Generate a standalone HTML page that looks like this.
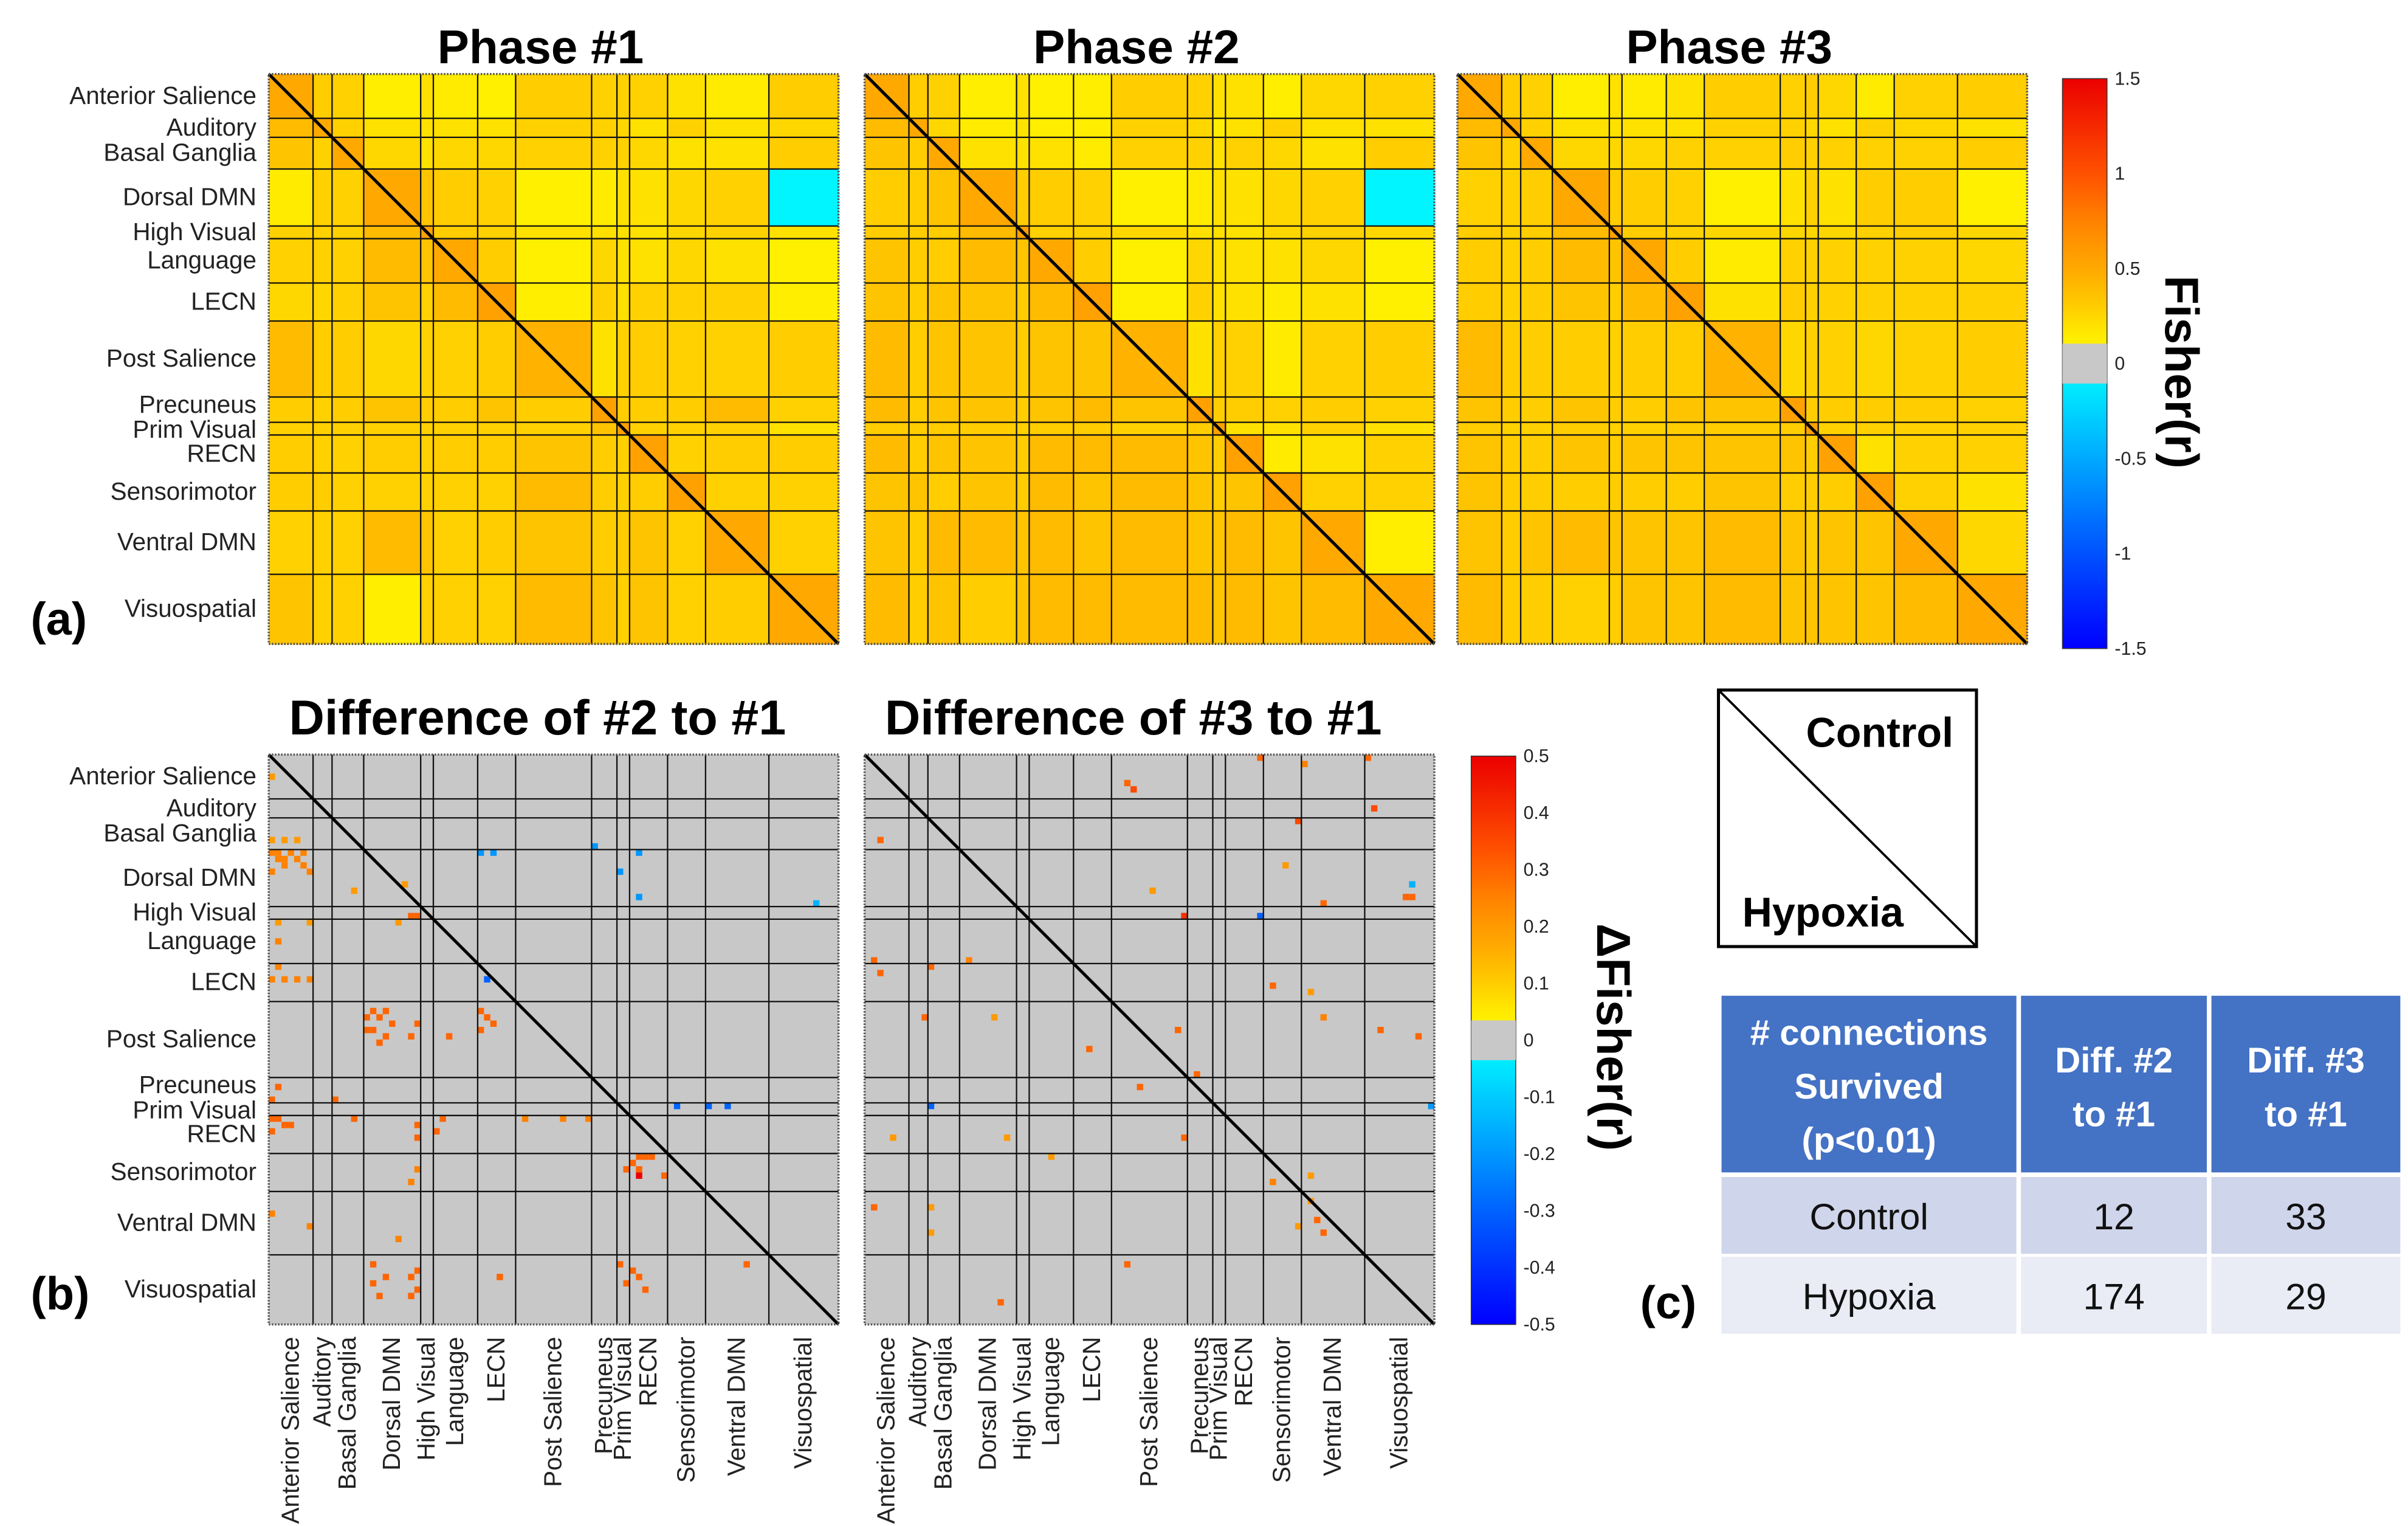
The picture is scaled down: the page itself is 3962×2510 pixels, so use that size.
<!DOCTYPE html>
<html><head><meta charset="utf-8">
<style>
html,body{margin:0;padding:0;background:#fff;}
svg{display:block;font-family:"Liberation Sans",Arial,sans-serif;}
</style></head>
<body>
<svg id="fig" width="3962" height="2510" viewBox="0 0 1568 993" xmlns="http://www.w3.org/2000/svg">
<rect x="0" y="0" width="1568" height="993" fill="#fff"/>
<g id="root"></g>
</svg>
<script>
// ---------- DATA ----------
const networks = ["Anterior Salience","Auditory","Basal Ganglia","Dorsal DMN","High Visual","Language","LECN","Post Salience","Precuneus","Prim Visual","RECN","Sensorimotor","Ventral DMN","Visuospatial"];
const networkSizes = [7,3,5,9,2,7,6,12,4,2,6,6,10,11];
const phaseTitles = ["Phase #1","Phase #2","Phase #3"];
const phase1 = [
[.5,.3,.28,.12,.2,.15,.1,.3,.28,.28,.28,.2,.15,.3],
[.4,.5,.28,.2,.2,.2,.2,.28,.28,.25,.2,.28,.2,.25],
[.35,.28,.5,.25,.2,.25,.25,.28,.28,.28,.25,.2,.2,.3],
[.15,.28,.28,.5,.35,.3,.28,.1,.15,.2,.2,.25,.28,-.06],
[.28,.28,.28,.4,.55,.3,.28,.2,.2,.2,.2,.25,.28,.2],
[.28,.28,.28,.4,.35,.5,.3,.1,.25,.2,.2,.25,.2,.1],
[.25,.25,.28,.35,.28,.4,.55,.12,.28,.2,.28,.28,.28,.12],
[.4,.3,.3,.25,.28,.28,.3,.45,.2,.28,.3,.28,.28,.3],
[.3,.28,.3,.35,.3,.3,.35,.3,.55,.3,.3,.3,.4,.28],
[.28,.28,.28,.28,.28,.28,.28,.28,.35,.55,.28,.28,.28,.2],
[.3,.28,.28,.3,.28,.3,.3,.35,.3,.28,.55,.28,.3,.3],
[.3,.3,.28,.28,.28,.28,.28,.4,.3,.28,.3,.55,.28,.28],
[.28,.28,.28,.4,.35,.28,.3,.35,.3,.3,.35,.28,.5,.28],
[.35,.28,.28,.12,.28,.28,.28,.4,.35,.28,.35,.28,.3,.5]];
const phase2 = [
[.5,.3,.28,.12,.2,.1,.12,.3,.28,.2,.2,.12,.25,.28],
[.4,.5,.25,.15,.2,.12,.12,.28,.25,.12,.2,.28,.2,.2],
[.35,.3,.5,.2,.2,.2,.15,.28,.28,.2,.28,.25,.2,.3],
[.3,.3,.35,.5,.3,.3,.28,.1,.15,.2,.2,.25,.28,-.06],
[.3,.3,.3,.4,.55,.28,.28,.25,.2,.2,.2,.25,.28,.25],
[.35,.3,.3,.4,.35,.5,.3,.1,.25,.2,.2,.2,.25,.1],
[.35,.3,.35,.35,.3,.4,.55,.1,.28,.2,.2,.15,.2,.1],
[.4,.3,.35,.35,.3,.35,.35,.45,.2,.28,.28,.15,.28,.3],
[.4,.3,.35,.35,.3,.35,.4,.35,.55,.3,.3,.28,.3,.28],
[.3,.3,.3,.3,.28,.3,.3,.28,.3,.55,.2,.2,.28,.2],
[.4,.3,.35,.35,.3,.4,.4,.4,.35,.3,.55,.15,.2,.28],
[.35,.35,.3,.35,.3,.4,.35,.4,.35,.3,.35,.55,.28,.28],
[.35,.3,.4,.4,.35,.4,.35,.4,.35,.35,.4,.35,.5,.12],
[.4,.3,.35,.3,.35,.4,.4,.4,.4,.35,.4,.35,.4,.5]];
const phase3 = [
[.5,.3,.28,.12,.2,.15,.2,.3,.28,.3,.25,.15,.28,.3],
[.4,.5,.28,.2,.2,.2,.2,.28,.28,.25,.2,.28,.25,.2],
[.35,.28,.5,.25,.25,.25,.28,.28,.3,.28,.28,.28,.28,.3],
[.28,.28,.3,.5,.3,.3,.28,.1,.2,.28,.2,.3,.3,.1],
[.3,.28,.3,.4,.55,.3,.28,.25,.25,.25,.25,.28,.3,.25],
[.3,.28,.3,.4,.35,.5,.3,.15,.28,.28,.28,.28,.28,.25],
[.3,.28,.3,.35,.3,.4,.55,.2,.3,.28,.28,.28,.28,.28],
[.4,.3,.3,.3,.28,.3,.3,.45,.25,.28,.28,.25,.28,.3],
[.35,.3,.3,.35,.3,.3,.35,.35,.55,.3,.3,.3,.3,.28],
[.3,.28,.28,.3,.28,.28,.3,.3,.3,.55,.28,.28,.28,.28],
[.35,.3,.3,.35,.3,.35,.35,.35,.35,.3,.55,.2,.28,.28],
[.35,.3,.3,.3,.3,.3,.3,.35,.3,.3,.3,.55,.28,.2],
[.35,.3,.35,.4,.35,.35,.35,.4,.35,.3,.35,.35,.5,.25],
[.4,.3,.3,.28,.3,.35,.35,.4,.35,.35,.35,.35,.4,.5]];
const diffTitles = ["Difference of #2 to #1","Difference of #3 to #1"];
const diff1Rows = [3,13,13,13,15,15,15,15,16,16,16,17,17,18,18,15,15,14,15,18,22,23,21,20,25,25,26,26,26,33,35,35,35,35,29,35,40,40,41,41,42,43,43,44,44,45,42,40,41,42,43,44,52,54,54,55,55,55,57,57,58,58,59,57,58,57,59,60,57,57,57,63,63,63,64,65,65,66,66,65,67,72,74,76,80,81,82,82,83,84,85,85,82,80,81,82,83,84,80];
const diff1Cols = [0,0,2,4,0,1,3,5,1,2,4,2,5,0,6,33,35,51,58,55,58,86,13,21,22,23,20,1,6,1,0,2,4,6,1,34,16,18,15,17,19,15,16,18,22,17,23,33,34,35,33,28,1,0,10,64,69,72,0,1,2,3,0,13,23,27,26,23,40,46,50,58,59,60,57,56,58,58,62,23,22,0,6,20,16,23,18,22,16,23,17,22,36,55,57,58,56,59,75];
const diff1Vals = [.2,.2,.2,.2,.25,.25,.25,.25,.25,.25,.25,.25,.25,.25,.25,-.2,-.2,-.2,-.2,-.2,-.2,-.15,.2,.2,.3,.3,.2,.2,.2,.25,.25,.25,.25,.25,.25,-.3,.3,.3,.3,.3,.3,.3,.3,.3,.3,.3,.3,.3,.3,.3,.3,.3,.3,.3,.3,-.3,-.3,-.3,.3,.3,.3,.3,.3,.3,.3,.3,.3,.3,.25,.25,.25,.3,.3,.3,.3,.3,.3,.5,.3,.25,.25,.25,.25,.25,.3,.3,.3,.3,.3,.3,.3,.3,.3,.3,.3,.3,.3,.3,.3];
const diff2Rows = [0,4,5,1,0,8,10,13,17,20,22,22,21,25,25,23,32,33,34,32,36,37,41,41,46,43,44,43,41,50,52,55,55,60,60,60,63,66,67,70,73,74,75,71,71,75,80,86];
const diff2Cols = [79,41,42,69,62,80,68,2,66,86,86,85,45,50,62,72,1,10,2,16,64,70,9,20,35,81,87,49,72,52,43,10,89,4,22,50,29,70,64,70,71,68,72,1,10,10,41,21];
const diff2Vals = [.3,.3,.35,.25,.3,.35,.35,.3,.2,-.15,.3,.3,.2,.4,-.3,.3,.3,.3,.3,.25,.3,.2,.3,.2,.3,.3,.3,.3,.25,.3,.3,-.3,-.2,.2,.2,.3,.2,.2,.25,.2,.3,.2,.3,.3,.2,.2,.3,.3];
const cbTicks1 = [1.5,1,0.5,0,-0.5,-1,-1.5];
const cbTicks2 = [0.5,0.4,0.3,0.2,0.1,0,-0.1,-0.2,-0.3,-0.4,-0.5];
const tableHeader = ["# connections|Survived|(p<0.01)","Diff. #2|to #1","Diff. #3|to #1"];
const tableRowLabels = ["Control","Hypoxia"];
const tableDiff2 = [12,174];
const tableDiff3 = [33,29];

// ---------- HELPERS ----------
const NS="http://www.w3.org/2000/svg";
const root=document.getElementById('root');
function mk(tag,attrs,parent){const e=document.createElementNS(NS,tag);for(const k in attrs)e.setAttribute(k,attrs[k]);(parent||root).appendChild(e);return e;}
const N = networkSizes.reduce((a,b)=>a+b,0);
const starts=[];{let s=0;for(const n of networkSizes){starts.push(s);s+=n;}}
function lerp(a,b,t){return a+(b-a)*t;}
function mixc(stops,v){
  if(v<=stops[0][0])return stops[0][1];
  for(let i=1;i<stops.length;i++){if(v<=stops[i][0]){const t=(v-stops[i-1][0])/(stops[i][0]-stops[i-1][0]);const a=stops[i-1][1],b=stops[i][1];return [0,1,2].map(k=>Math.round(lerp(a[k],b[k],t)));}}
  return stops[stops.length-1][1];
}
function rgb(c){return `rgb(${c[0]},${c[1]},${c[2]})`;}
function cmap(v,scale){
  const g=0.035*scale;
  if(Math.abs(v)<g) return "rgb(200,200,200)";
  const t=v/scale;
  if(t>0) return rgb(mixc([[0,[255,250,0]],[0.1,[255,235,0]],[0.2,[255,205,0]],[0.33,[255,170,0]],[0.5,[255,130,0]],[0.67,[255,80,0]],[1,[235,0,0]]],t));
  return rgb(mixc([[-1,[0,0,255]],[-0.67,[0,80,255]],[-0.33,[0,170,255]],[0,[0,255,255]]],t));
}

// ---------- MATRICES ----------
function matrix(x0,y0,size,name,fillFn){
  const g=mk('g',{});
  
  
  const c=size/N;
  fillFn(g,c);
  for(let i=1;i<networkSizes.length;i++){
    const p=starts[i]*c;
    const l1=mk('line',{x1:x0,x2:x0+size,y1:y0+p,y2:y0+p,stroke:'#111','stroke-width':0.9},g);
    
    
    const l2=mk('line',{x1:x0+p,x2:x0+p,y1:y0,y2:y0+size,stroke:'#111','stroke-width':0.9},g);
    
    
  }
  const d=mk('line',{x1:x0,y1:y0,x2:x0+size,y2:y0+size,stroke:'#000','stroke-width':2},g);
  
  
  const b=mk('rect',{x:x0,y:y0,width:size,height:size,fill:'none',stroke:'#555','stroke-width':1.4,'stroke-dasharray':'1 1'},g);
  
  
  return g;
}
function blockFill(x0,y0,data){
  return function(g,c){
    for(let i=0;i<networkSizes.length;i++)for(let j=0;j<networkSizes.length;j++){
      const r=mk('rect',{x:x0+starts[j]*c,y:y0+starts[i]*c,width:networkSizes[j]*c+0.3,height:networkSizes[i]*c+0.3,fill:cmap(data[i][j],1.5)},g);
      
      
    }
  };
}
function sparseFill(x0,y0,rows,cols,vals){
  return function(g,c){
    const bg=mk('rect',{x:x0,y:y0,width:N*c,height:N*c,fill:'rgb(200,200,200)'},g);
    
    
    for(let k=0;k<rows.length;k++){
      const r=mk('rect',{x:x0+cols[k]*c,y:y0+rows[k]*c,width:c,height:c,fill:cmap(vals[k],0.5)},g);
      
      
    }
  };
}
const phaseX=[175,563,949], phaseData=[phase1,phase2,phase3];
for(let p=0;p<3;p++){
  matrix(phaseX[p],48,371,'phase-matrix-'+(p+1),blockFill(phaseX[p],48,phaseData[p]));
  const t=mk('text',{x:phaseX[p]+177,y:41,'text-anchor':'middle','font-size':31,'font-weight':'bold'});
  t.textContent=phaseTitles[p];
  
  
}
const diffX=[175,563];
matrix(175,491,371,'difference-matrix-2-1',sparseFill(175,491,diff1Rows,diff1Cols,diff1Vals));
matrix(563,491,371,'difference-matrix-3-1',sparseFill(563,491,diff2Rows,diff2Cols,diff2Vals));
for(let p=0;p<2;p++){
  const t=mk('text',{x:diffX[p]+175,y:478,'text-anchor':'middle','font-size':32,'font-weight':'bold'});
  t.textContent=diffTitles[p];
  
  
}
function rowLabels(y0,size){
  const c=size/N;
  for(let i=0;i<networks.length;i++){
    let y=y0+(starts[i]+networkSizes[i]/2)*c+5;
    if(networks[i]==="Precuneus") y-=3;
    if(networks[i]==="Prim Visual") y+=1;
    const t=mk('text',{x:167,y:y,'text-anchor':'end','font-size':16,fill:'#222'});
    t.textContent=networks[i];
    
    
  }
}
rowLabels(48,371); rowLabels(491,371);
for(const x0 of diffX){
  const c=371/N;
  for(let i=0;i<networks.length;i++){
    const x=x0+(starts[i]+networkSizes[i]/2)*c+5;
    const t=mk('text',{x:x,y:870,'text-anchor':'end','font-size':16,fill:'#222',transform:`rotate(-90 ${x} 870)`});
    t.textContent=networks[i];
    
    
  }
}
function colorbar(x,y0,y1,scale,ticks,id,label,lx,ly){
  const grad=mk('linearGradient',{id:id,x1:0,y1:0,x2:0,y2:1});
  for(let k=0;k<=60;k++){const v=scale-(2*scale)*k/60;mk('stop',{offset:k/60,'stop-color':cmap(v,scale)},grad);}
  const r=mk('rect',{x:x,y:y0,width:29,height:y1-y0,fill:`url(#${id})`,stroke:'#333','stroke-width':0.6});
  
  
  const gy=(y0+y1)/2, gh=(y1-y0)*0.035;
  const gb=mk('rect',{x:x,y:gy-gh,width:29,height:gh*2,fill:'rgb(200,200,200)'});
  
  
  for(const v of ticks){
    const y=y0+(scale-v)/(2*scale)*(y1-y0);
    const t=mk('text',{x:x+34,y:y+4,'font-size':12,fill:'#222'});
    t.textContent=String(v);
    
    
  }
  const l=mk('text',{x:lx,y:ly,'text-anchor':'middle','font-size':31,'font-weight':'bold',transform:`rotate(90 ${lx} ${ly})`});
  l.textContent=label;
  
  
}
colorbar(1343,51,422,1.5,cbTicks1,'cb1','Fisher(r)',1410,242);
colorbar(958,492,862,0.5,cbTicks2,'cb2','\u0394Fisher(r)',1040,675);
[['(a)',20,413],['(b)',20,852],['(c)',1068,858]].forEach(a=>{
  const t=mk('text',{x:a[1],y:a[2],'font-size':30,'font-weight':'bold'});
  t.textContent=a[0];
  
  
});
{
  const g=mk('g',{});
  
  
  mk('rect',{x:1119,y:449,width:168,height:167,fill:'#fff',stroke:'#000','stroke-width':2},g);
  mk('line',{x1:1119,y1:449,x2:1287,y2:616,stroke:'#000','stroke-width':1.5},g);
  const t1=mk('text',{x:1224,y:486,'text-anchor':'middle','font-size':27,'font-weight':'bold'},g);
  t1.textContent='Control';
  
  
  const t2=mk('text',{x:1187,y:603,'text-anchor':'middle','font-size':27,'font-weight':'bold'},g);
  t2.textContent='Hypoxia';
  
  
}
{
  const g=mk('g',{});
  
  
  const cx=[1121,1316,1440], cw=[192,121,123];
  for(let k=0;k<3;k++){
    const r=mk('rect',{x:cx[k],y:648,width:cw[k],height:115,fill:'#4472C4'},g);
    
    
    const lines=tableHeader[k].split('|');
    const ys = lines.length===3?[680,715,750]:[698,733];
    lines.forEach((s,i)=>{
      const t=mk('text',{x:cx[k]+cw[k]/2,y:ys[i],'text-anchor':'middle','font-size':23,'font-weight':'bold',fill:'#fff'},g);
      t.textContent=s;
      
      
    });
  }
  const ry=[766,818], fills=['#CFD5EA','#E9EBF5'];
  for(let r=0;r<2;r++){
    const vals=[tableRowLabels[r],tableDiff2[r],tableDiff3[r]];
    for(let k=0;k<3;k++){
      const cell=mk('rect',{x:cx[k],y:ry[r],width:cw[k],height:50,fill:fills[r]},g);
      
      
      const t=mk('text',{x:cx[k]+cw[k]/2,y:ry[r]+34,'text-anchor':'middle','font-size':24,fill:'#111'},g);
      t.textContent=String(vals[k]);
      
      
    }
  }
}
</script>
</body></html>
